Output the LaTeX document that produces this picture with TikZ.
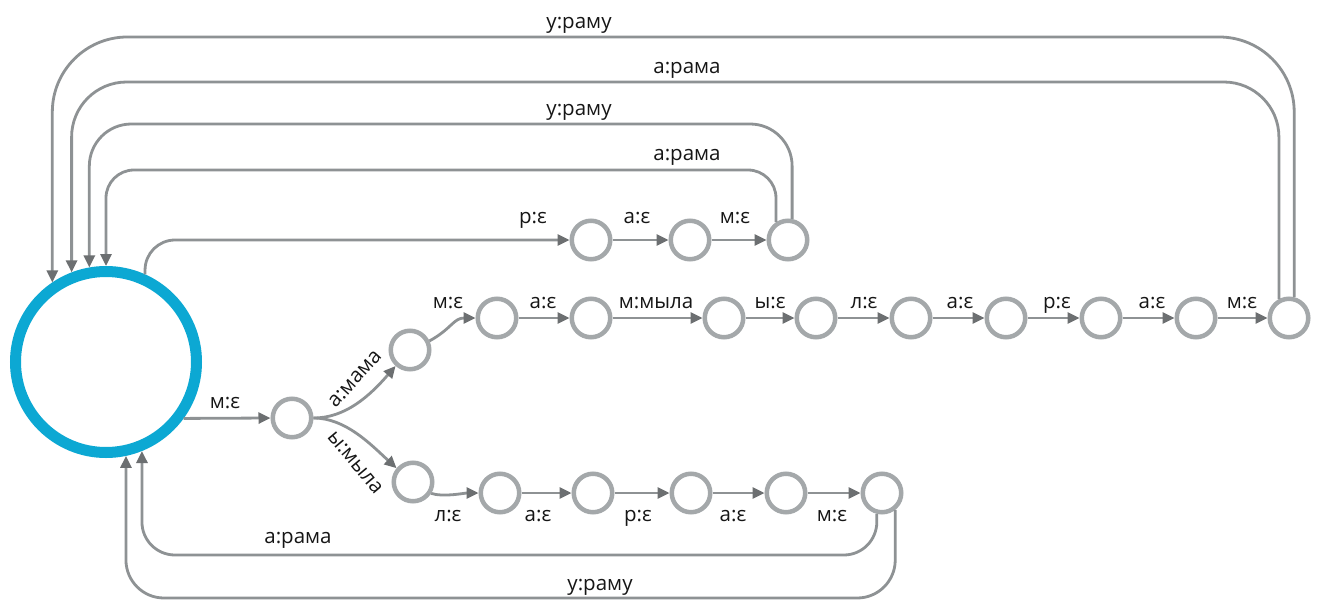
\documentclass[tikz,border=0pt]{standalone}
\usepackage{fontspec}
\setmainfont{Open Sans}
\usetikzlibrary{arrows.meta}
\definecolor{ringblue}{HTML}{0CA8D3}
\definecolor{ringgray}{HTML}{A4A8AA}
\definecolor{edgegray}{HTML}{8E9294}
\definecolor{tipgray}{HTML}{6C6F71}
\definecolor{labelink}{HTML}{161616}
\begin{document}
\begin{tikzpicture}[x=1pt,y=1pt,
  start/.style={circle,draw=ringblue,line width=11pt,minimum size=181pt,inner sep=0pt,fill=white},
  state/.style={circle,draw=ringgray,line width=4.5pt,minimum size=38.5pt,inner sep=0pt,fill=white},
  edge/.style={draw=edgegray,line width=2.8pt,-{Triangle[length=12pt,width=11pt,color=tipgray]}},
  lbl/.style={font=\fontsize{20.5}{20.5}\selectfont,text=labelink,inner sep=0pt,anchor=base},
  rlbl/.style={font=\fontsize{20.5}{20.5}\selectfont,text=labelink,inner sep=0pt,anchor=center},
]
% canvas
\fill[white] (0,0) rectangle (1322,-605);
\useasboundingbox (0,0) rectangle (1322,-605);

% start state
\node[start] (S) at (106,-362) {};

% upper short chain
\node[state] (t1) at (591,-240) {};
\node[state] (t2) at (690,-240) {};
\node[state] (t3) at (788,-240) {};

% branching state
\node[state] (m1) at (292,-418) {};

% long chain
\node[state] (n1) at (410,-350) {};
\node[state] (n2) at (497,-318) {};
\node[state] (n3) at (591,-318) {};
\node[state] (n4) at (724,-318) {};
\node[state] (n5) at (816,-318) {};
\node[state] (n6) at (911,-318) {};
\node[state] (n7) at (1006,-318) {};
\node[state] (n8) at (1101,-318) {};
\node[state] (n9) at (1196,-318) {};
\node[state] (n10) at (1289,-318) {};

% lower chain
\node[state] (k1) at (413,-482) {};
\node[state] (k2) at (500,-493) {};
\node[state] (k3) at (593,-493) {};
\node[state] (k4) at (691,-493) {};
\node[state] (k5) at (786,-493) {};
\node[state] (k6) at (882,-493) {};

% levels of the return loops
\coordinate (h1) at (0,-37);
\coordinate (h2) at (0,-82);
\coordinate (h3) at (0,-124);
\coordinate (h4) at (0,-170);
\coordinate (b1) at (0,-555);
\coordinate (b2) at (0,-598);

% forward transitions
\draw[edge] (S.-36) -- (m1.west);
\draw[edge,rounded corners=30] (S.66) |- (t1);
\draw[edge] (t1) -- (t2);
\draw[edge] (t2) -- (t3);

\draw[edge] (m1.east) .. controls +(32,0) and +(-26,-30) .. (n1.228);
\draw[edge] (m1.east) .. controls +(32,0) and +(-26,24) .. (k1.140);

\draw[edge] (n1.25) .. controls +(22,12) and +(-22,0) .. (n2.west);
\draw[edge] (n2) -- (n3);
\draw[edge] (n3) -- (n4);
\draw[edge] (n4) -- (n5);
\draw[edge] (n5) -- (n6);
\draw[edge] (n6) -- (n7);
\draw[edge] (n7) -- (n8);
\draw[edge] (n8) -- (n9);
\draw[edge] (n9) -- (n10);

\draw[edge] (k1.-32) .. controls +(12,-4) and +(-14,0) .. (k2.west);
\draw[edge] (k2) -- (k3);
\draw[edge] (k3) -- (k4);
\draw[edge] (k4) -- (k5);
\draw[edge] (k5) -- (k6);

% return loops to the start state
\draw[edge,rounded corners=75] (n10.76) |- (S.124 |- h1) -- (S.124);
\draw[edge,rounded corners=55] (n10.118) |- (S.111 |- h2) -- (S.111);
\draw[edge,rounded corners=42] (t3.79) |- (S.100 |- h3) -- (S.100);
\draw[edge,rounded corners=28] (t3.124) |- (S.90 |- h4) -- (S.90);
\draw[edge,rounded corners=33] (k6.256) |- (S.292 |- b1) -- (S.292);
\draw[edge,rounded corners=38] (k6.308) |- (S.282 |- b2) -- (S.282);

% loop labels
\node[lbl] (r1) at (579,-28) {у:раму};
\node[lbl] (r2) at (687,-73) {а:рама};
\node[lbl] (r3) at (579,-115) {у:раму};
\node[lbl] (r4) at (687,-160) {а:рама};
\node[lbl] (r5) at (298,-543) {а:рама};
\node[lbl] (r6) at (600,-590) {у:раму};

% upper chain labels
\node[lbl] (p1) at (533,-223) {р:ε};
\node[lbl] (p2) at (637,-223) {а:ε};
\node[lbl] (p3) at (735,-223) {м:ε};

% branch labels
\node[lbl] (q0) at (225,-408) {м:ε};
\node[rlbl,rotate=48] (q1) at (355,-379) {а:мама};
\node[rlbl,rotate=-50] (q2) at (355,-463) {ы:мыла};

% long chain labels
\node[lbl] (s1) at (448,-308) {м:ε};
\node[lbl] (s2) at (543,-308) {а:ε};
\node[lbl] (s3) at (656,-308) {м:мыла};
\node[lbl] (s4) at (770,-308) {ы:ε};
\node[lbl] (s5) at (864,-308) {л:ε};
\node[lbl] (s6) at (960,-308) {а:ε};
\node[lbl] (s7) at (1057,-308) {р:ε};
\node[lbl] (s8) at (1152,-308) {а:ε};
\node[lbl] (s9) at (1242,-308) {м:ε};

% lower chain labels
\node[lbl] (u1) at (448,-521) {л:ε};
\node[lbl] (u2) at (538,-521) {а:ε};
\node[lbl] (u3) at (638,-521) {р:ε};
\node[lbl] (u4) at (733,-521) {а:ε};
\node[lbl] (u5) at (832,-521) {м:ε};
\end{tikzpicture}
\end{document}
